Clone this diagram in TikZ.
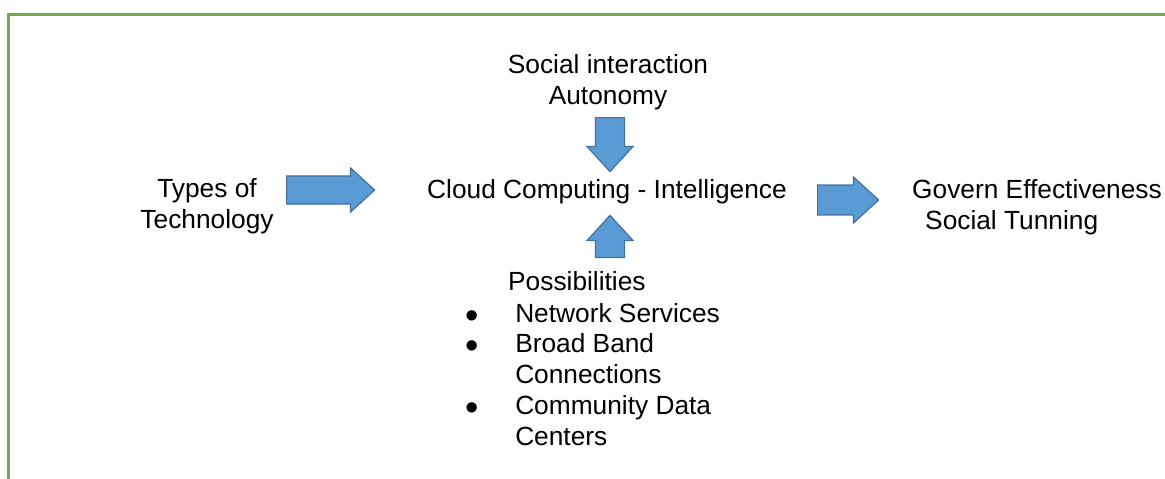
\documentclass[tikz,border=0pt]{standalone}
\usepackage{fontspec}
\setmainfont{Liberation Sans}
\usetikzlibrary{shapes.arrows,positioning}
\definecolor{framegreen}{HTML}{70AD47}
\definecolor{arrowfill}{HTML}{5B9BD5}
\definecolor{arrowdraw}{HTML}{41719C}
\newcommand{\bigbullet}{\raisebox{-6pt}[0pt][0pt]{\scalebox{1.45}{•}}}

\begin{document}
\begin{tikzpicture}[x=1pt,y=-1pt,
  every node/.style={inner sep=0pt, font=\fontsize{26.3}{30.8}\selectfont},
  blockarrow/.style={single arrow, draw=arrowdraw, fill=arrowfill, line width=1.2pt,
    single arrow tip angle=85, text=arrowfill}]
\useasboundingbox (0,0) rectangle (1165,479);
\draw[framegreen, line width=3.2pt] (8.7,479) |- (1165,14.7);

\node[anchor=base, align=center] (social) at (608,104) {Social interaction\\Autonomy};
\node[anchor=base, align=center] (tech) at (207,228) {Types of\\Technology};
\node[anchor=base west] (cloud) at (427,198) {Cloud Computing - Intelligence};
\node[anchor=base west, align=left] (govern) at (912,229) {Govern Effectiveness\\\hspace*{13pt}Social Tunning};
\node[anchor=base west] (poss) at (508,290) {Possibilities};
\node[anchor=base west] (plist) at (465.3,322) {\begin{tabular}[t]{@{}l@{\hspace{36.4pt}}l@{}}
\bigbullet & Network Services\\
\bigbullet & Broad Band\\
  & Connections\\
\bigbullet & Community Data\\
  & Centers
\end{tabular}};

\node[blockarrow, anchor=tail, inner sep=12pt, minimum height=88pt, minimum width=44pt] (techarr) at (286,190) {};
\node[blockarrow, anchor=tail, inner sep=12.5pt, minimum height=61pt, minimum width=46pt] (govarr) at (817,200) {};
\node[blockarrow, anchor=tail, shape border rotate=270, inner sep=11.5pt, minimum height=54pt, minimum width=46pt] (socarr) at (610,117) {};
\node[blockarrow, anchor=tail, shape border rotate=90, inner sep=11.5pt, minimum height=42pt, minimum width=46pt] (possarr) at (610,258) {};
\end{tikzpicture}
\end{document}
